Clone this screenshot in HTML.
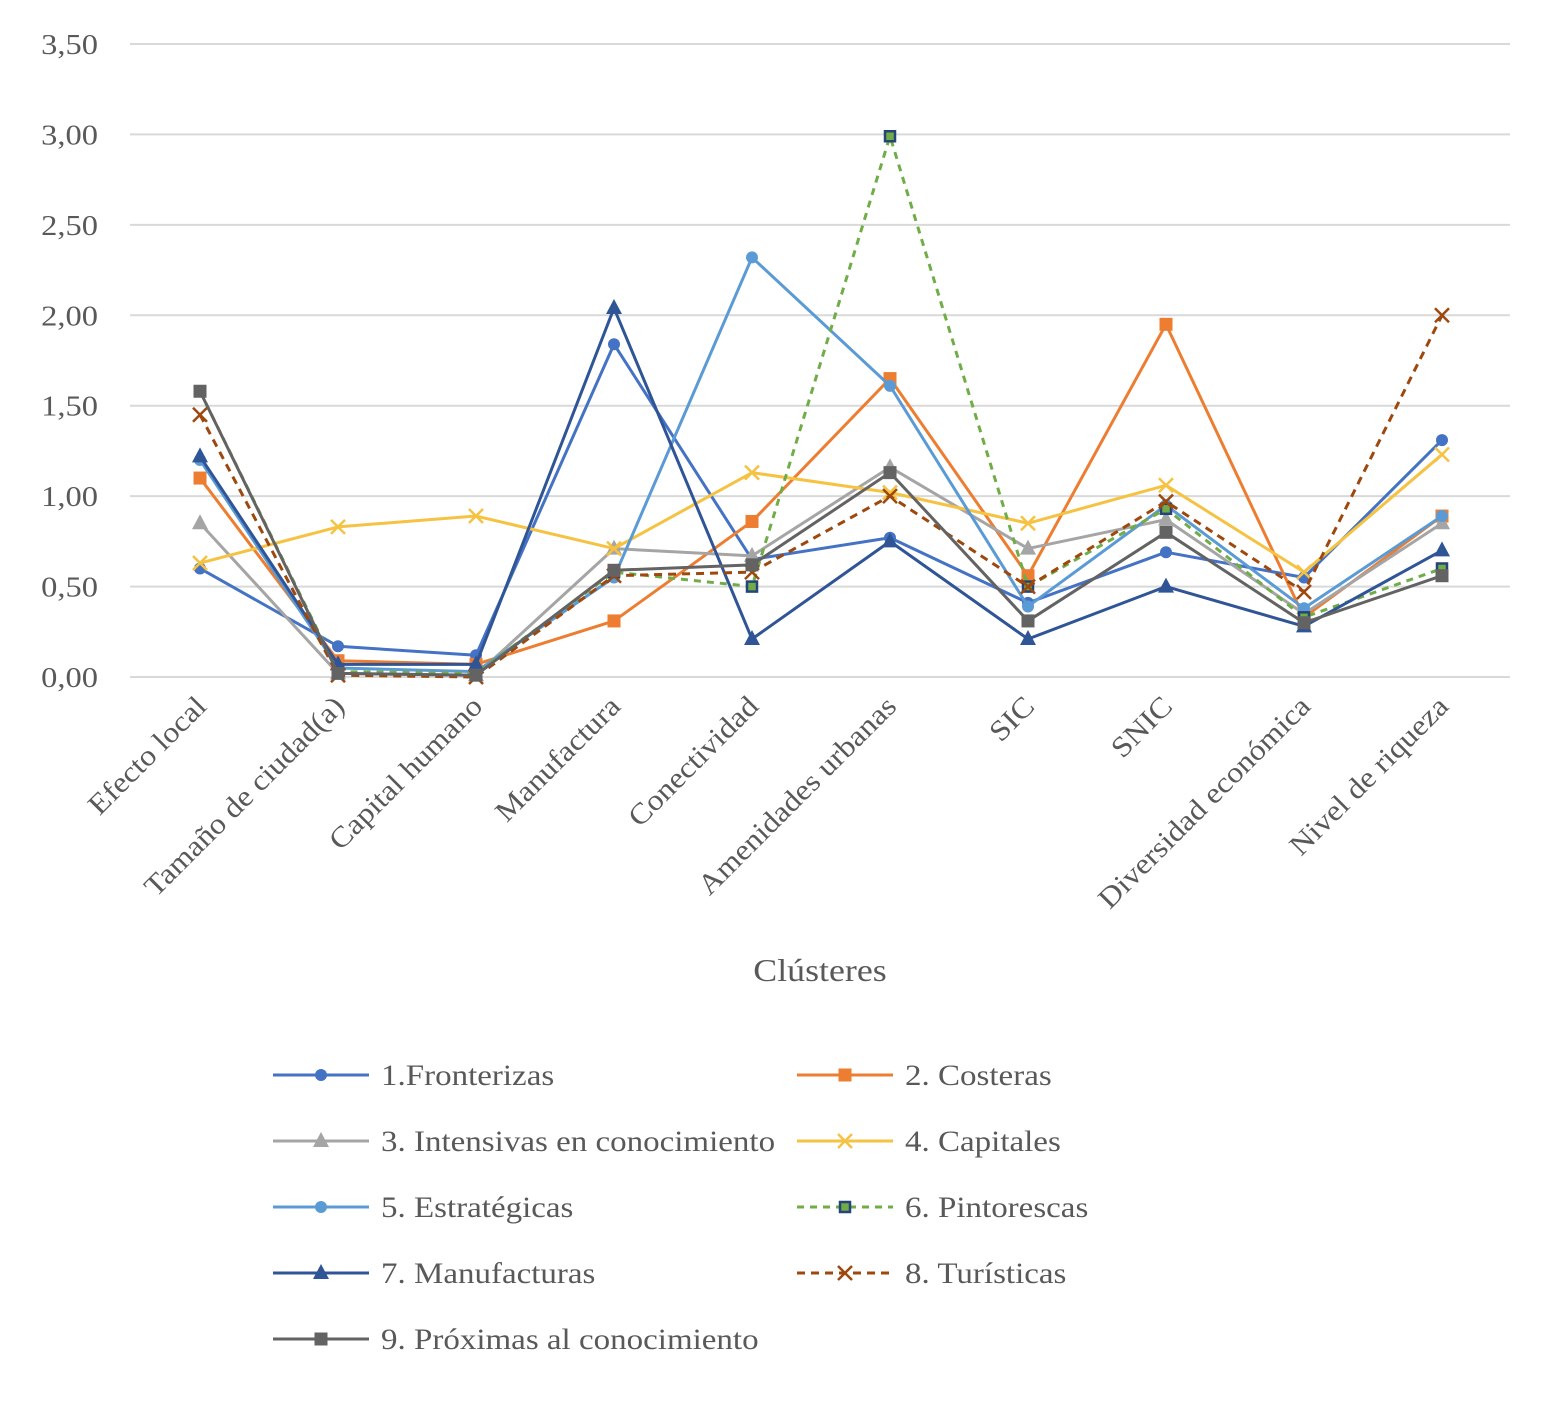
<!DOCTYPE html>
<html><head><meta charset="utf-8"><style>
body{margin:0;background:#fff}
svg{display:block;font-family:"Liberation Serif",serif}
</style></head><body>
<svg id="chart" width="1558" height="1428" viewBox="0 0 1558 1428"></svg>
<script>
const categories=["Efecto local","Tamaño de ciudad(a)","Capital humano","Manufactura","Conectividad","Amenidades urbanas","SIC","SNIC","Diversidad económica","Nivel de riqueza"];
const seriesNames=["1.Fronterizas","2. Costeras","3. Intensivas en conocimiento","4. Capitales","5. Estratégicas","6. Pintorescas","7. Manufacturas","8. Turísticas","9. Próximas al conocimiento"];
const s1=[0.60,0.17,0.12,1.84,0.65,0.77,0.41,0.69,0.55,1.31];
const s2=[1.10,0.09,0.07,0.31,0.86,1.65,0.56,1.95,0.33,0.89];
const s3=[0.85,0.02,0.01,0.71,0.67,1.16,0.71,0.87,0.35,0.85];
const s4=[0.63,0.83,0.89,0.71,1.13,1.02,0.85,1.06,0.58,1.23];
const s5=[1.20,0.05,0.03,0.55,2.32,1.61,0.39,0.95,0.38,0.89];
const s6=[1.58,0.03,0.02,0.58,0.50,2.99,0.50,0.93,0.33,0.60];
const s7=[1.22,0.07,0.07,2.04,0.21,0.75,0.21,0.50,0.28,0.70];
const s8=[1.45,0.01,0.00,0.56,0.58,1.00,0.50,0.97,0.47,2.00];
const s9=[1.58,0.02,0.01,0.59,0.62,1.13,0.31,0.80,0.30,0.56];
const yTicks=["0,00","0,50","1,00","1,50","2,00","2,50","3,00","3,50"];
const yTickVals=[0,0.5,1,1.5,2,2.5,3,3.5];

const styles=[
 {c:"#4472C4",m:"circle"},{c:"#ED7D31",m:"square"},{c:"#A5A5A5",m:"triangle"},
 {c:"#F5C242",m:"x"},{c:"#5B9BD5",m:"circle"},{c:"#70AD47",m:"squareB",dash:"7,6"},
 {c:"#2F5597",m:"triangle"},{c:"#9E480E",m:"x",dash:"8,6"},{c:"#636363",m:"square"}];
const data=[s1,s2,s3,s4,s5,s6,s7,s8,s9];
const svg=document.getElementById('chart');
const NS="http://www.w3.org/2000/svg";
const X=i=>200+i*138, Y=v=>677-v*(633/3.5);
function el(t,a,p){const e=document.createElementNS(NS,t);for(const k in a)e.setAttribute(k,a[k]);(p||svg).appendChild(e);return e;}
function widen(t,f){const w=t.getComputedTextLength();t.setAttribute('textLength',(w*f).toFixed(1));t.setAttribute('lengthAdjust','spacingAndGlyphs');}
yTickVals.forEach((v,i)=>{
 const g=el('line',{x1:130,x2:1510,y1:Y(v),y2:Y(v),stroke:"#d9d9d9","stroke-width":2});
 
 
 const t=el('text',{x:98,y:Y(v)+10,"text-anchor":"end","font-size":29,fill:"#595959"});
 t.textContent=yTicks[i];
 
 
 widen(t,1.12);
});
categories.forEach((c,i)=>{
 const t=el('text',{transform:`translate(${X(i)+8},${708}) rotate(-45)`,"text-anchor":"end","font-size":29,fill:"#595959"});
 t.textContent=c;
 
 
 widen(t,1.1);
});
const at=el('text',{x:820,y:981,"text-anchor":"middle","font-size":32,fill:"#595959"});
at.textContent="Clústeres";


widen(at,1.12);
function marker(g,m,x,y,c){
 let e;
 if(m==="circle")e=el('circle',{cx:x,cy:y,r:6,fill:c},g);
 else if(m==="square")e=el('rect',{x:x-6.5,y:y-6.5,width:13,height:13,fill:c},g);
 else if(m==="squareB")e=el('rect',{x:x-5,y:y-5,width:10,height:10,fill:"#70AD47",stroke:"#264478","stroke-width":2.5},g);
 else if(m==="triangle")e=el('polygon',{points:`${x},${y-9} ${x-8},${y+6} ${x+8},${y+6}`,fill:c},g);
 else{e=el('path',{d:`M${x-7},${y-7}L${x+7},${y+7}M${x-7},${y+7}L${x+7},${y-7}`,stroke:c,"stroke-width":2.5},g);}
 
 
}
data.forEach((s,k)=>{
 const st=styles[k];
 const g=el('g',{});
 
 
 const p=el('polyline',{points:s.map((v,i)=>X(i)+","+Y(v)).join(" "),fill:"none",stroke:st.c,"stroke-width":3,"stroke-dasharray":st.dash||"none","stroke-linejoin":"round"},g);
 
 
 s.forEach((v,i)=>marker(g,st.m,X(i),Y(v),st.c));
 const col=k%2, row=Math.floor(k/2);
 const lx=col?797:273, ly=1075+row*66;
 const lg=el('g',{});
 
 
 el('line',{x1:lx,x2:lx+96,y1:ly,y2:ly,stroke:st.c,"stroke-width":3,"stroke-dasharray":st.dash||"none"},lg);
 marker(lg,st.m,lx+48,ly,st.c);
 const t=el('text',{x:lx+108,y:ly+10,"font-size":30,fill:"#595959"},lg);
 t.textContent=seriesNames[k];
 widen(t,1.1);
});
</script>
</body></html>
